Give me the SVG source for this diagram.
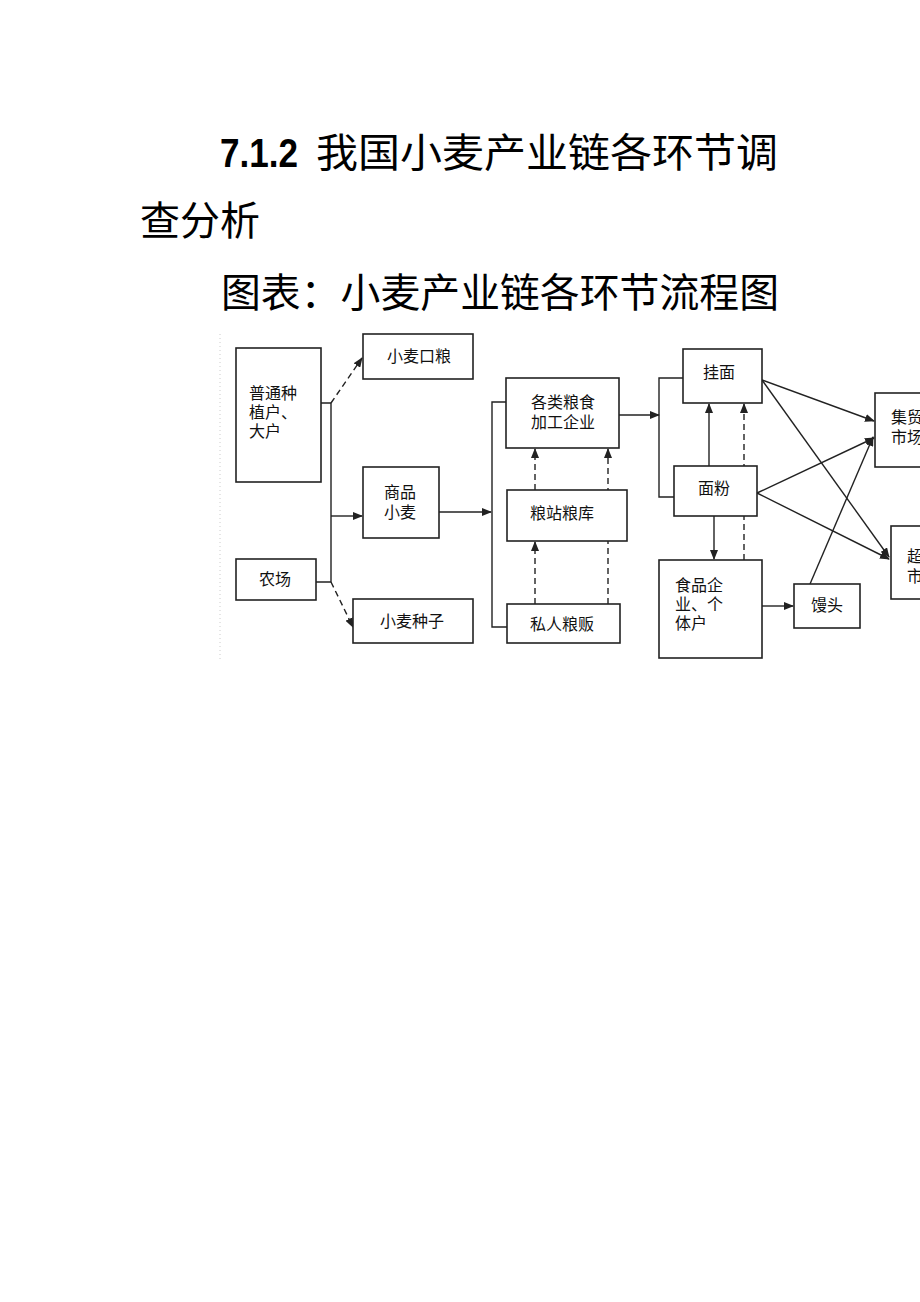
<svg xmlns="http://www.w3.org/2000/svg" width="920" height="1302" viewBox="0 0 920 1302">
<style>
.title{font-family:"Noto Sans CJK SC",sans-serif;font-size:40px;fill:#000}
.num{font-family:"Liberation Sans",sans-serif;font-weight:bold;font-size:40px;fill:#000}
.box{fill:#fff;stroke:#222;stroke-width:1.6}
.t{font-family:"Noto Sans CJK SC",sans-serif;font-size:16px;fill:#111}
.c{text-anchor:middle}
.ln{fill:none;stroke:#222;stroke-width:1.4}
.da{stroke-dasharray:6,4}
</style>
<defs>
<marker id="ah" markerWidth="10" markerHeight="8" refX="9" refY="4" orient="auto" markerUnits="userSpaceOnUse">
<path d="M0,0 L10,4 L0,8 Z" fill="#222"/>
</marker>
</defs>
<rect width="920" height="1302" fill="#fff"/>
<g id="title">
<text x="220" y="167"><tspan class="num" textLength="78" lengthAdjust="spacingAndGlyphs">7.1.2</tspan></text>
<text class="title" x="316" y="167" textLength="462" lengthAdjust="spacingAndGlyphs">我国小麦产业链各环节调</text>
<text class="title" x="140" y="235" textLength="120" lengthAdjust="spacingAndGlyphs">查分析</text>
<text class="title" x="221" y="307" textLength="558" lengthAdjust="spacingAndGlyphs">图表：小麦产业链各环节流程图</text>
</g>
<line x1="220" y1="334" x2="220" y2="660" stroke="#ccc" stroke-width="1" stroke-dasharray="1,3"/>
<g id="connectors">
<polyline class="ln" points="321,403 331,403 331,582 316,582"/>
<line class="ln da" x1="331" y1="403" x2="362" y2="358" marker-end="url(#ah)"/>
<line class="ln" x1="331" y1="516" x2="362" y2="516" marker-end="url(#ah)"/>
<line class="ln da" x1="331" y1="582" x2="353" y2="627" marker-end="url(#ah)"/>
<line class="ln" x1="439" y1="512" x2="491" y2="512" marker-end="url(#ah)"/>
<polyline class="ln" points="506,402 492,402 492,627 507,627"/>
<line class="ln da" x1="535" y1="490" x2="535" y2="449" marker-end="url(#ah)"/>
<line class="ln da" x1="535" y1="604" x2="535" y2="542" marker-end="url(#ah)"/>
<line class="ln da" x1="608" y1="604" x2="608" y2="449" marker-end="url(#ah)"/>
<line class="ln" x1="619" y1="415" x2="659" y2="415" marker-end="url(#ah)"/>
<polyline class="ln" points="683,378 659,378 659,497 674,497"/>
<line class="ln" x1="709" y1="466" x2="709" y2="404" marker-end="url(#ah)"/>
<line class="ln da" x1="744" y1="560" x2="744" y2="404" marker-end="url(#ah)"/>
<line class="ln" x1="714" y1="516" x2="714" y2="559" marker-end="url(#ah)"/>
<line class="ln" x1="762" y1="606" x2="793" y2="606" marker-end="url(#ah)"/>
<line class="ln" x1="762" y1="380" x2="874" y2="421" marker-end="url(#ah)"/>
<line class="ln" x1="762" y1="380" x2="889" y2="557" marker-end="url(#ah)"/>
<line class="ln" x1="757" y1="493" x2="874" y2="438" marker-end="url(#ah)"/>
<line class="ln" x1="757" y1="493" x2="889" y2="559" marker-end="url(#ah)"/>
<line class="ln" x1="810" y1="584" x2="873" y2="437" marker-end="url(#ah)"/>
</g>
<g id="n1"><rect class="box" x="236" y="348" width="85" height="134"/>
<text class="t" x="249" y="399">普通种</text><text class="t" x="249" y="418">植户、</text><text class="t" x="249" y="437">大户</text></g>
<g id="n2"><rect class="box" x="363" y="334" width="110" height="45"/><text class="t c" x="419" y="362">小麦口粮</text></g>
<g id="n3"><rect class="box" x="363" y="467" width="76" height="71"/><text class="t c" x="400" y="498">商品</text><text class="t c" x="400" y="518">小麦</text></g>
<g id="n4"><rect class="box" x="236" y="559" width="80" height="41"/><text class="t c" x="275" y="585">农场</text></g>
<g id="n5"><rect class="box" x="353" y="599" width="120" height="44"/><text class="t c" x="412" y="627">小麦种子</text></g>
<g id="n6"><rect class="box" x="506" y="378" width="113" height="70"/><text class="t c" x="563" y="408">各类粮食</text><text class="t c" x="563" y="428">加工企业</text></g>
<g id="n7"><rect class="box" x="507" y="490" width="120" height="51"/><text class="t c" x="562" y="519">粮站粮库</text></g>
<g id="n8"><rect class="box" x="507" y="604" width="113" height="39"/><text class="t c" x="562" y="630">私人粮贩</text></g>
<g id="n9"><rect class="box" x="683" y="349" width="79" height="54"/><text class="t c" x="719" y="378">挂面</text></g>
<g id="n10"><rect class="box" x="674" y="466" width="83" height="50"/><text class="t c" x="714" y="494">面粉</text></g>
<g id="n11"><rect class="box" x="659" y="560" width="103" height="98"/>
<text class="t" x="675" y="591">食品企</text><text class="t" x="675" y="610">业、个</text><text class="t" x="675" y="629">体户</text></g>
<g id="n12"><rect class="box" x="794" y="584" width="66" height="44"/><text class="t c" x="827" y="611">馒头</text></g>
<g id="n13"><rect class="box" x="875" y="393" width="80" height="74"/><text class="t" x="891" y="423">集贸</text><text class="t" x="891" y="443">市场</text></g>
<g id="n14"><rect class="box" x="891" y="526" width="60" height="73"/><text class="t" x="907" y="562">超</text><text class="t" x="907" y="582">市</text></g>
</svg>
